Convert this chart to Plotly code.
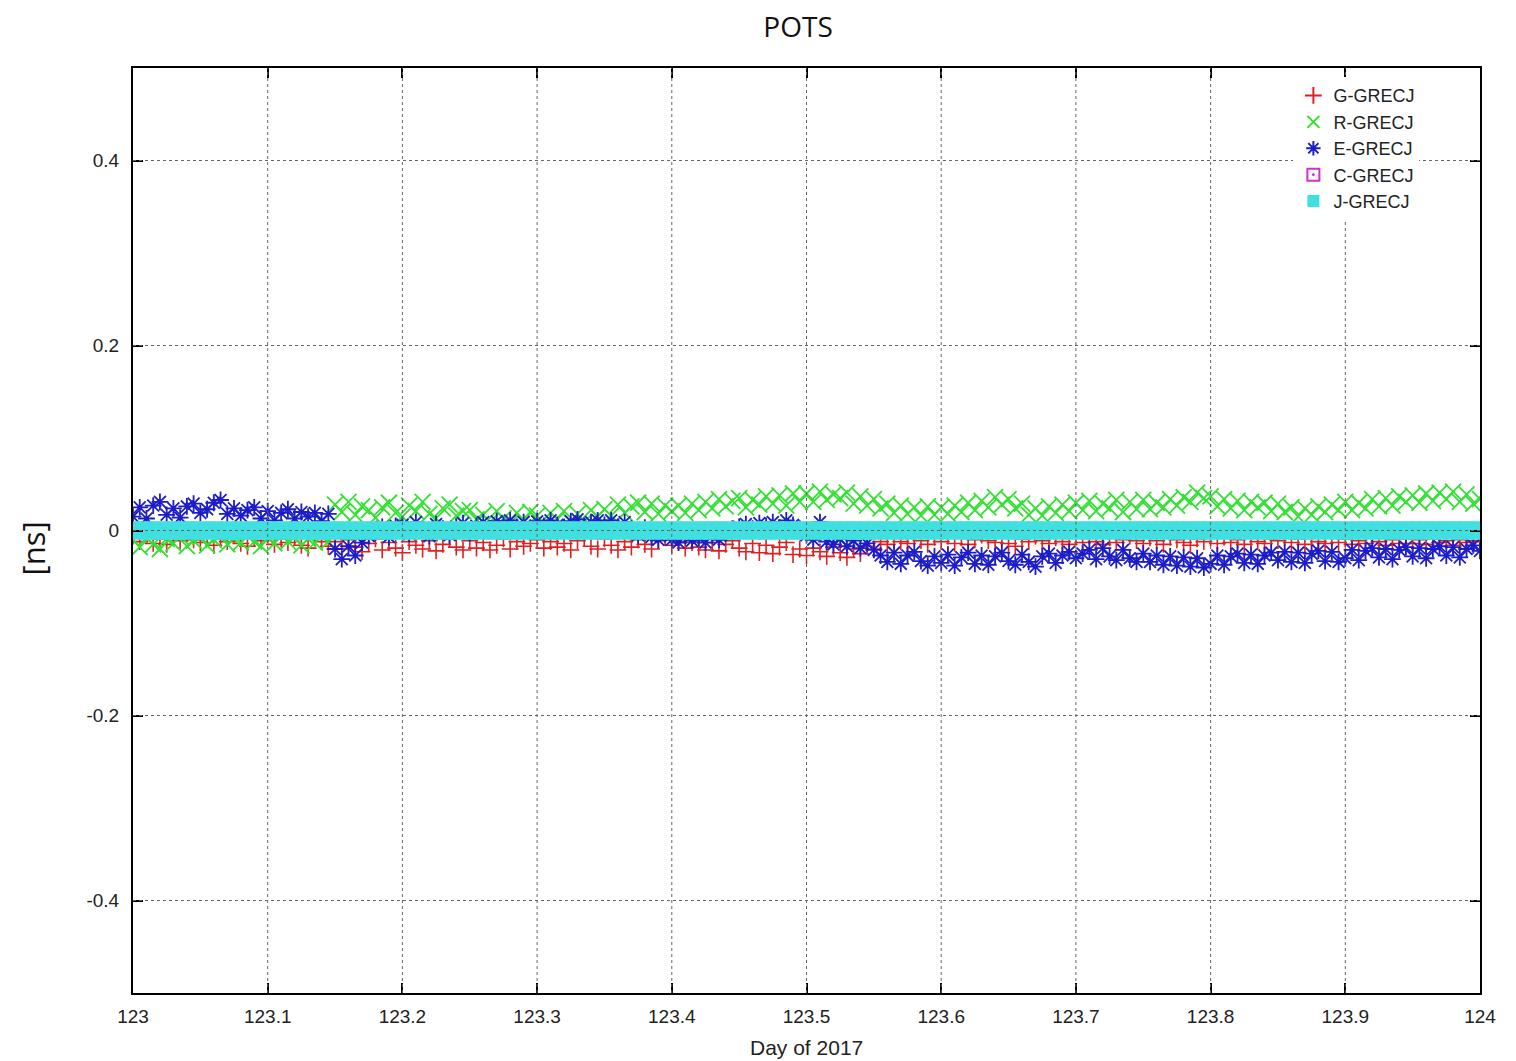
import plotly.graph_objects as go

# ---------------- data ----------------
# epochs every 0.005 day over day 123..124 of 2017
epochs = [round(123 + i * 0.005, 3) for i in range(201)]

g_grecj = [
    -0.006, -0.012, -0.004, -0.014, -0.009, -0.015, -0.005, -0.011, -0.003, -0.010,
    -0.013, -0.006, -0.016, -0.009, -0.012, -0.004, -0.014, -0.017, -0.008, -0.011,
    -0.005, -0.015, -0.009, -0.013, -0.007, -0.016, -0.019, -0.008, -0.012, -0.017,
    -0.012, -0.020, -0.010, -0.018, -0.023, -0.014, -0.009, -0.021, -0.013, -0.019,
    -0.024, -0.012, -0.016, -0.020, -0.011, -0.022, -0.015, -0.009, -0.018, -0.021,
    -0.011, -0.019, -0.013, -0.021, -0.016, -0.009, -0.020, -0.012, -0.017, -0.014,
    -0.010, -0.019, -0.012, -0.018, -0.014, -0.021, -0.011, -0.008, -0.017, -0.020,
    -0.009, -0.016, -0.021, -0.012, -0.018, -0.010, -0.015, -0.020, -0.011, -0.008,
    -0.016, -0.012, -0.019, -0.013, -0.018, -0.021, -0.013, -0.022, -0.015, -0.011,
    -0.019, -0.023, -0.014, -0.024, -0.016, -0.025, -0.018, -0.013, -0.026, -0.020,
    -0.027, -0.019, -0.023, -0.028, -0.018, -0.024, -0.029, -0.020, -0.025, -0.017,
    -0.020, -0.012, -0.015, -0.008, -0.012, -0.014, -0.006, -0.011, -0.015, -0.007,
    -0.012, -0.006, -0.014, -0.008, -0.015, -0.010, -0.005, -0.011, -0.013, -0.007,
    -0.014, -0.017, -0.009, -0.012, -0.006, -0.011, -0.014, -0.008, -0.012, -0.015,
    -0.007, -0.013, -0.006, -0.012, -0.015, -0.008, -0.013, -0.010, -0.006, -0.011,
    -0.014, -0.008, -0.011, -0.015, -0.007, -0.010, -0.013, -0.016, -0.009, -0.012,
    -0.008, -0.014, -0.007, -0.013, -0.010, -0.015, -0.008, -0.012, -0.014, -0.009,
    -0.011, -0.007, -0.013, -0.009, -0.015, -0.008, -0.012, -0.014, -0.007, -0.013,
    -0.009, -0.015, -0.011, -0.014, -0.008, -0.012, -0.016, -0.010, -0.014, -0.009,
    -0.014, -0.010, -0.015, -0.009, -0.013, -0.011, -0.016, -0.010, -0.013, -0.011,
    -0.012,
]

r_grecj = [
    -0.010, -0.018, -0.008, -0.015, -0.020, -0.009, -0.014, -0.006, -0.017, -0.011,
    -0.007, -0.016, -0.010, -0.005, -0.015, -0.009, -0.013, -0.006, -0.012, -0.017,
    -0.008, -0.014, -0.005, -0.012, -0.007, -0.016, -0.009, -0.013, -0.006, -0.012,
    0.028, 0.020, 0.031, 0.017, 0.026, 0.022, 0.014, 0.025, 0.030, 0.019,
    0.015, 0.027, 0.021, 0.031, 0.018, 0.013, 0.024, 0.028, 0.016, 0.021,
    0.022, 0.012, 0.017, 0.009, 0.021, 0.013, 0.008, 0.019, 0.011, 0.020,
    0.016, 0.008, 0.019, 0.012, 0.021, 0.010, 0.018, 0.009, 0.022, 0.015,
    0.023, 0.016, 0.028, 0.019, 0.026, 0.030, 0.020, 0.029, 0.018, 0.027,
    0.021, 0.027, 0.019, 0.029, 0.022, 0.031, 0.024, 0.034, 0.026, 0.032,
    0.035, 0.025, 0.033, 0.028, 0.037, 0.029, 0.038, 0.027, 0.040, 0.031,
    0.040, 0.031, 0.042, 0.033, 0.039, 0.035, 0.041, 0.029, 0.037, 0.027,
    0.034, 0.024, 0.029, 0.019, 0.027, 0.018, 0.025, 0.016, 0.026, 0.017,
    0.025, 0.018, 0.027, 0.020, 0.030, 0.022, 0.032, 0.025, 0.036, 0.028,
    0.034, 0.024, 0.029, 0.017, 0.024, 0.016, 0.026, 0.019, 0.028, 0.021,
    0.030, 0.022, 0.032, 0.021, 0.029, 0.024, 0.033, 0.020, 0.031, 0.023,
    0.033, 0.023, 0.030, 0.025, 0.034, 0.027, 0.036, 0.031, 0.041, 0.035,
    0.037, 0.026, 0.034, 0.024, 0.032, 0.022, 0.031, 0.025, 0.030, 0.021,
    0.029, 0.020, 0.025, 0.015, 0.024, 0.017, 0.026, 0.020, 0.028, 0.022,
    0.031, 0.022, 0.030, 0.024, 0.034, 0.026, 0.035, 0.027, 0.037, 0.031,
    0.038, 0.030, 0.040, 0.032, 0.041, 0.034, 0.042, 0.031, 0.039, 0.029,
    0.034,
]

e_grecj = [
    0.015, 0.025, 0.013, 0.027, 0.031, 0.017, 0.024, 0.014, 0.026, 0.029,
    0.019, 0.023, 0.030, 0.033, 0.018, 0.024, 0.016, 0.022, 0.025, 0.013,
    0.021, 0.011, 0.019, 0.023, 0.013, 0.020, 0.015, 0.019, 0.010, 0.018,
    -0.020, -0.031, -0.017, -0.027, -0.013, -0.006, -0.002, 0.004, -0.007, 0.005,
    0.006, -0.004, 0.009, 0.001, -0.006, 0.007, 0.002, -0.005, 0.004, 0.008,
    -0.003, 0.005, 0.009, 0.002, 0.010, 0.006, 0.011, 0.004, 0.009, 0.003,
    0.010, 0.005, 0.011, 0.006, 0.004, 0.010, 0.012, 0.005, 0.009, 0.011,
    0.006, 0.011, 0.004, 0.009, 0.002, -0.005, 0.003, -0.007, -0.010, -0.004,
    -0.010, -0.013, -0.006, -0.011, -0.008, -0.013, -0.005, -0.010, -0.003, 0.002,
    0.004, 0.007, 0.002, 0.008, 0.005, 0.009, 0.003, 0.011, 0.006, 0.002,
    -0.005, -0.010, 0.009, -0.012, -0.015, -0.009, -0.017, -0.011, -0.019, -0.014,
    -0.021, -0.027, -0.034, -0.024, -0.036, -0.027, -0.023, -0.033, -0.038, -0.028,
    -0.035, -0.026, -0.038, -0.029, -0.024, -0.036, -0.027, -0.037, -0.028, -0.024,
    -0.033, -0.037, -0.026, -0.034, -0.039, -0.028, -0.025, -0.035, -0.027, -0.023,
    -0.030, -0.025, -0.021, -0.031, -0.019, -0.028, -0.032, -0.021, -0.030, -0.034,
    -0.025, -0.034, -0.027, -0.037, -0.028, -0.038, -0.029, -0.039, -0.030, -0.040,
    -0.036, -0.027, -0.037, -0.028, -0.025, -0.035, -0.026, -0.036, -0.027, -0.024,
    -0.032, -0.023, -0.034, -0.024, -0.035, -0.025, -0.022, -0.033, -0.023, -0.034,
    -0.030, -0.021, -0.032, -0.022, -0.019, -0.029, -0.020, -0.031, -0.021, -0.018,
    -0.028, -0.019, -0.030, -0.020, -0.017, -0.027, -0.018, -0.029, -0.020, -0.016,
    -0.022,
]

c_grecj = [0.0] * len(epochs)
j_grecj = [0.0] * len(epochs)

x_tickvals = [123.0, 123.1, 123.2, 123.3, 123.4, 123.5, 123.6, 123.7, 123.8, 123.9, 124.0]
x_ticktext = ["123", "123.1", "123.2", "123.3", "123.4", "123.5", "123.6", "123.7", "123.8", "123.9", "124"]
y_tickvals = [-0.4, -0.2, 0.0, 0.2, 0.4]
y_ticktext = ["-0.4", "-0.2", "0", "0.2", "0.4"]

# ---------------- figure ----------------
series = [
    ("G-GRECJ", g_grecj, dict(symbol="cross-thin-open", size=12, color="#e02020",
                              line=dict(width=1.6, color="#e02020"))),
    ("R-GRECJ", r_grecj, dict(symbol="x-thin-open", size=16, color="#33e033",
                              line=dict(width=1.8, color="#33e033"))),
    ("E-GRECJ", e_grecj, dict(symbol="asterisk-open", size=14, color="#1c1cc8",
                              line=dict(width=1.8, color="#1c1cc8"))),
    ("C-GRECJ", c_grecj, dict(symbol="square-open-dot", size=12, color="#cc33cc",
                              line=dict(width=1.6, color="#cc33cc"))),
    ("J-GRECJ", j_grecj, dict(symbol="square", size=18, color="#40e0e0",
                              line=dict(width=0))),
]

fig = go.Figure()
for name, vals, mk in series:
    fig.add_trace(go.Scatter(x=epochs, y=vals, mode="markers", name=name, marker=mk))

# dotted grid drawn above the data, as in the original
shapes = []
for xv in x_tickvals[1:-1]:
    shapes.append(dict(type="line", xref="x", yref="paper", x0=xv, x1=xv, y0=0, y1=1,
                       line=dict(color="#666666", width=1, dash="dot"), layer="above"))
for yv in y_tickvals:
    shapes.append(dict(type="line", xref="paper", yref="y", x0=0, x1=1, y0=yv, y1=yv,
                       line=dict(color="#666666", width=1, dash="dot"), layer="above"))

helv = "Liberation Sans, Arial, sans-serif"
axis_font = dict(family=helv, size=19, color="#222222")

fig.update_layout(
    width=1500, height=1053,
    margin=dict(l=125, r=20, t=60, b=68),
    paper_bgcolor="white", plot_bgcolor="white",
    title=dict(text="POTS", x=0.5267, xanchor="center", y=0.982, yanchor="middle",
               font=dict(family="Open Sans, Noto Sans, sans-serif", size=28, color="#111111")),
    showlegend=True,
    legend=dict(x=0.955, xanchor="right", y=0.99, yanchor="top",
                bgcolor="white", borderwidth=0,
                font=dict(family=helv, size=18, color="#222222"),
                tracegroupgap=0, itemsizing="constant"),
    shapes=shapes,
    annotations=[
        dict(text="[ns]", xref="paper", yref="paper", x=0, y=0.5,
             xanchor="center", yanchor="middle", xshift=-101, yshift=-18,
             textangle=-90, showarrow=False,
             font=dict(family="Open Sans, Noto Sans, sans-serif", size=31, color="#111111")),
        dict(text="Day of 2017", xref="paper", yref="paper", x=0.5, y=0,
             xanchor="center", yanchor="middle", yshift=-54, showarrow=False,
             font=dict(family=helv, size=21, color="#222222")),
    ],
)

fig.update_xaxes(
    range=[123, 124], tickvals=x_tickvals, ticktext=x_ticktext,
    showgrid=False, zeroline=False,
    showline=True, linecolor="black", linewidth=2, mirror="ticks",
    ticks="inside", ticklen=10, tickwidth=2, tickcolor="black",
    tickfont=axis_font, ticklabelstandoff=5, ticklabeloverflow="allow",
)
fig.update_yaxes(
    range=[-0.5, 0.5], tickvals=y_tickvals, ticktext=y_ticktext,
    showgrid=False, zeroline=False,
    showline=True, linecolor="black", linewidth=2, mirror="ticks",
    ticks="inside", ticklen=10, tickwidth=2, tickcolor="black",
    tickfont=axis_font, ticklabelstandoff=8, ticklabeloverflow="allow",
)

fig.write_html("out.html")
